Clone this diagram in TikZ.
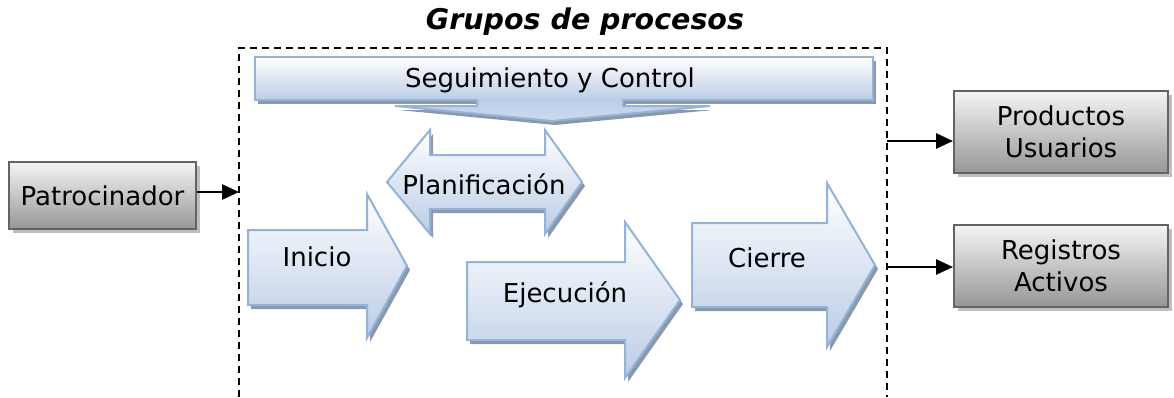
\documentclass[tikz,border=0pt]{standalone}
\usepackage{fontspec}
\setmainfont{DejaVu Sans}
\usepackage{xcolor}
\usepackage{tikz}
\usetikzlibrary{shapes, arrows.meta, positioning, shadows}

\definecolor{bordeazul}{RGB}{147,179,215}
\definecolor{fondoazul}{RGB}{186,204,230}
\definecolor{sombraazul}{RGB}{138,152,172}
\definecolor{bordegris}{RGB}{100,100,100}
\definecolor{fondogris}{RGB}{150,150,150}
\definecolor{sombragris}{RGB}{190,190,190}

\begin{document}
\begin{tikzpicture}[x=1pt, y=-1pt,
        every node/.style={font=\fontsize{26}{32}\selectfont},
        flecha/.style={draw=bordeazul, line width=2pt, top color=white, bottom color=fondoazul,
            drop shadow={shadow xshift=3pt, shadow yshift=-4pt, fill=sombraazul, opacity=1}},
        caja/.style={draw=bordegris, rectangle, line width=2pt, top color=black!4, bottom color=fondogris, align=center,
            drop shadow={shadow xshift=4pt, shadow yshift=-4pt, fill=sombragris, opacity=1}},
        enlace/.style={-{Triangle[length=17pt, width=15pt]}, line width=2.8pt}]
        \useasboundingbox (0,0) rectangle (1174,397);

        \node (titulo) [font=\fontsize{28.5}{34}\selectfont\bfseries\itshape] at (585,22) {Grupos de procesos};
        \draw[line width=2pt, dash pattern=on 7pt off 5pt] (239,397) -- (239,48) -- (887,48) -- (887,397);
        \coordinate (entrada) at (239,192);
        \coordinate (salidaA) at (887,141);
        \coordinate (salidaB) at (887,267);

        \path[flecha] (255,57) rectangle (873,100);
        \path[flecha, top color=fondoazul, bottom color=fondoazul!70!white] (477,99) -- (477,106) -- (395,106) -- (552,121) -- (710,106) -- (623,106) -- (623,99);
        \path[flecha] (387,182) -- (430,130) -- (430,155) -- (545,155) -- (545,130) -- (582,182) -- (545,234) -- (545,209) -- (430,209) -- (430,234) -- cycle;
        \path[flecha] (248,230) -- (367,230) -- (367,194) -- (407,266) -- (367,338) -- (367,305) -- (248,305) -- cycle;
        \path[flecha] (467,262) -- (625,262) -- (625,222) -- (680,300) -- (625,378) -- (625,340) -- (467,340) -- cycle;
        \path[flecha] (692,223) -- (827,223) -- (827,183) -- (875,265) -- (827,347) -- (827,307) -- (692,307) -- cycle;

        \node (seguim) at (550,80) {Seguimiento y Control};
        \node (planif) at (484,184) {Planificación};
        \node (inicio) at (317,257) {Inicio};
        \node (ejec) at (565,295) {Ejecución};
        \node (cierre) at (767,258) {Cierre};

        \node (patro) [caja, minimum width=187pt, minimum height=67pt] at (102.5,195.5) {Patrocinador};
        \node (prod) [caja, minimum width=214pt, minimum height=82pt] at (1061,132) {Productos\\Usuarios};
        \node (regis) [caja, minimum width=214pt, minimum height=82pt] at (1061,266) {Registros\\Activos};

        \draw[enlace] (patro.east |- entrada) -- (entrada);
        \draw[enlace] (salidaA) -- (salidaA -| prod.west);
        \draw[enlace] (salidaB) -- (salidaB -| regis.west);
    \end{tikzpicture}
\end{document}
